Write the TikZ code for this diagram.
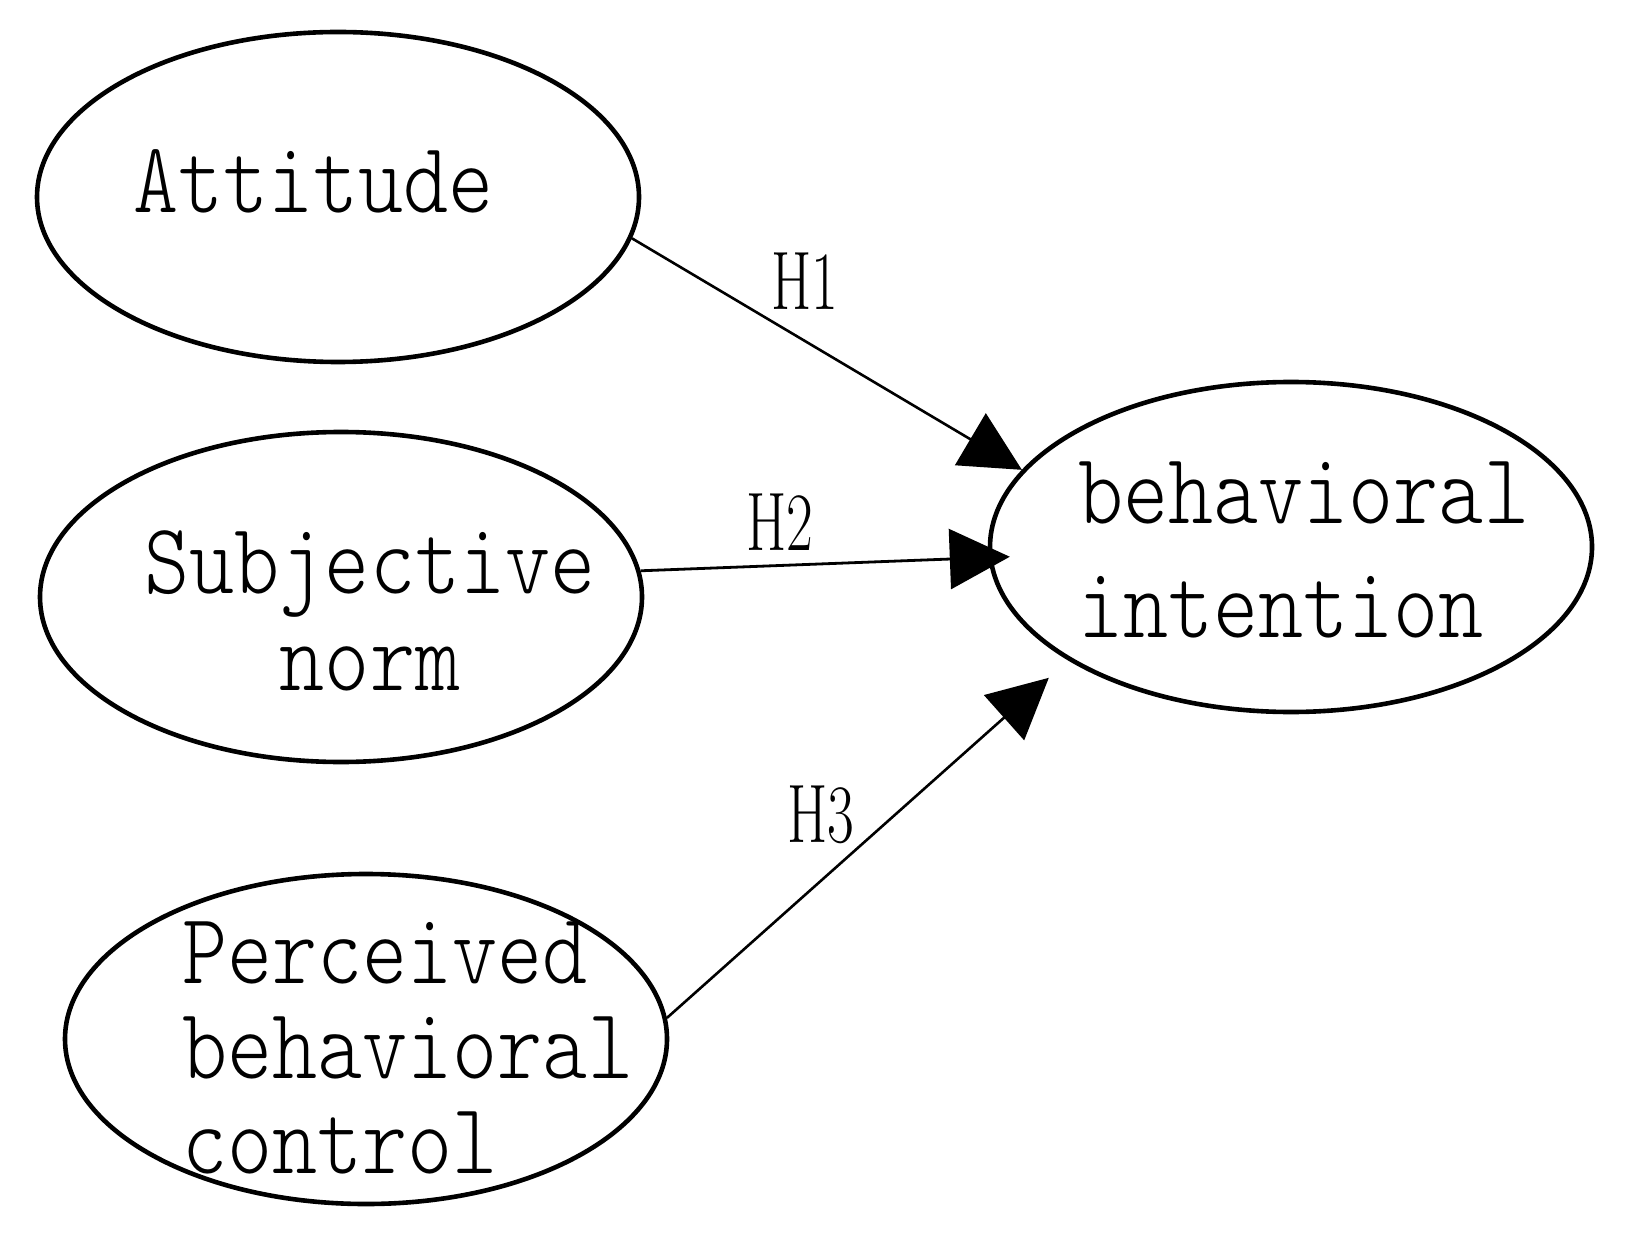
\documentclass[tikz,border=0pt]{standalone}
\usepackage{fontspec}
\usepackage{graphicx}
\usetikzlibrary{shapes.geometric,arrows.meta}
\newcommand{\vartext}[1]{\scalebox{0.85}[1]{#1}}
\newcommand{\hyptext}[1]{\scalebox{0.7}[1]{#1}}
\begin{document}
\begin{tikzpicture}[x=0.5pt,y=-0.5pt,
	var/.style={ellipse,draw,line width=2.3pt,minimum width=301pt,minimum height=165pt,inner sep=0pt},
	word/.style={inner sep=0pt,font=\ttfamily\fontseries{l}\fontsize{50.5}{57}\selectfont},
	hyp/.style={inner sep=0pt,anchor=base,font=\fontsize{41.5}{45}\selectfont},
	>={Triangle[length=30pt,width=30pt]}]
		\useasboundingbox (0,0) rectangle (1631,1245);
		\node[var] (att) at (338,197) {};
		\node[var] (sub) at (341,597) {};
		\node[var] (per) at (366,1039) {};
		\node[var] (int) at (1291,547) {};
		\node[word,anchor=base west] (att-1) at (133,213) {\vartext{Attitude}};
		\node[word,anchor=base] (sub-1) at (370,593) {\vartext{Subjective}};
		\node[word,anchor=base] (sub-2) at (370,690) {\vartext{norm}};
		\node[word,anchor=base west] (per-1) at (182,983) {\vartext{Perceived}};
		\node[word,anchor=base west] (per-2) at (182,1078) {\vartext{behavioral}};
		\node[word,anchor=base west] (per-3) at (182,1173) {\vartext{control}};
		\node[word,anchor=base west] (int-1) at (1078,523) {\vartext{behavioral}};
		\node[word,anchor=base west] (int-2) at (1078,637) {\vartext{intention}};
		\draw[->,line width=1.3pt] (att.-8.7) -- (int.164);
		\draw[->,line width=1.4pt,shorten >=-10.75pt] (sub.5.6) -- (int.182.7);
		\draw[->,line width=1.3pt,shorten >=13pt] (per.4.5) -- (int.207.2);
		\node[hyp] (h1) at (805,310) {\hyptext{H1}};
		\node[hyp] (h2) at (780,550) {\hyptext{H2}};
		\node[hyp] (h3) at (821,842) {\hyptext{H3}};
	\end{tikzpicture}
\end{document}
